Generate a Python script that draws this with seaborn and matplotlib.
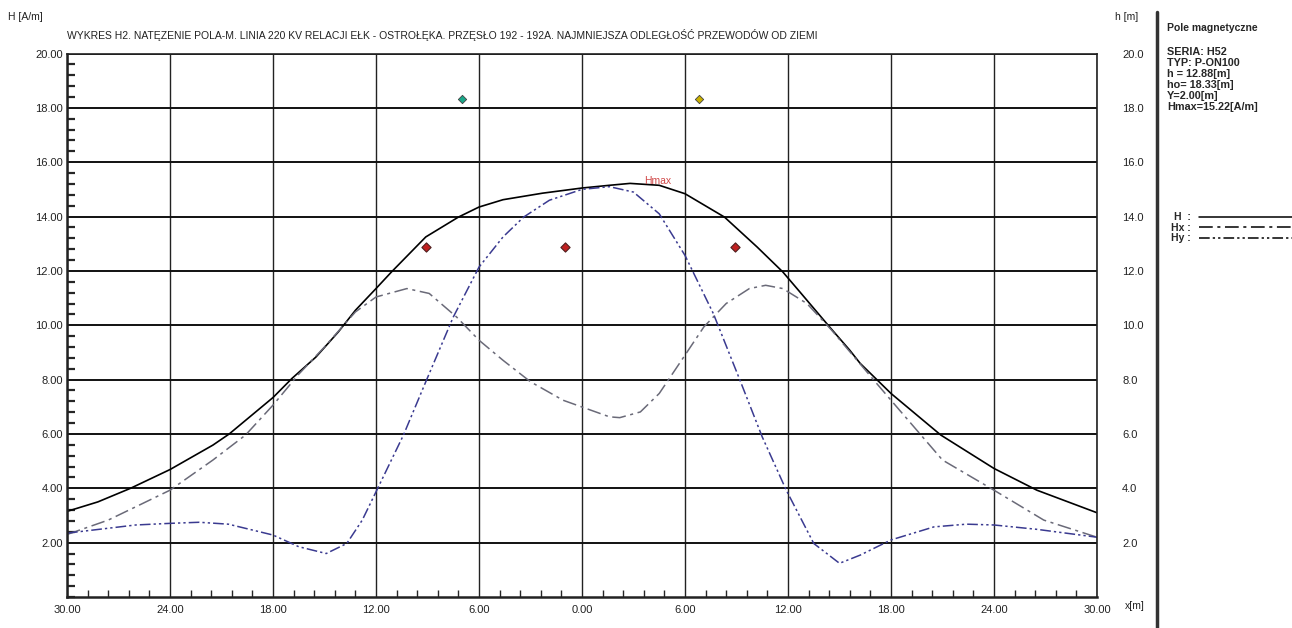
import numpy as np
import pandas as pd
import matplotlib
matplotlib.use("Agg")
import matplotlib.pyplot as plt
import seaborn as sns
from matplotlib.ticker import MultipleLocator, FuncFormatter
from matplotlib.lines import Line2D

# H - total field [A/m]
h_x = [-30, -28.2, -26.3, -24, -21.5, -20.55, -18, -16.9, -15.5, -14.2, -13.2, -12, -11.1,
       -9.1, -7.2, -6.0, -4.6, -2.3, 0.0, 1.6, 2.8, 4.5, 6.0, 8.3, 10.2, 11.7, 12.7, 14.5,
       15.6, 16.2, 18.0, 20.9, 24.0, 26.5, 30.0]
h_y = [3.15, 3.5, 4.0, 4.69, 5.59, 6.0, 7.34, 8.04, 8.83, 9.75, 10.55, 11.35, 11.96,
       13.25, 13.98, 14.35, 14.62, 14.86, 15.05, 15.15, 15.22, 15.15, 14.84, 13.98, 12.88, 11.96,
       11.22, 9.88, 9.08, 8.6, 7.49, 5.96, 4.73, 3.93, 3.1]

# Hx
hx_x = [-30, -27.6, -25.6, -24, -21.5, -19.6, -18, -16.5, -15.0, -13.2, -12, -10.2, -8.9,
        -7.3, -6, -4.6, -3.0, -1.1, 1.6, 2.2, 3.4, 4.5, 6.0, 7.1, 8.4, 9.75, 10.7, 11.7,
        13.1, 14.5, 17.0, 18.0, 21.0, 24.0, 26.9, 30.0]
hx_y = [2.3, 2.83, 3.44, 3.93, 5.04, 5.96, 7.06, 8.2, 9.2, 10.49, 11.04, 11.35, 11.17,
        10.3, 9.45, 8.71, 7.92, 7.24, 6.63, 6.6, 6.81, 7.49, 8.9, 9.94, 10.8, 11.35, 11.47, 11.35,
        10.8, 9.85, 7.98, 7.24, 5.04, 3.93, 2.83, 2.2]

# Hy
hy_x = [-30, -28, -26, -24, -22.3, -20.6, -18, -16.5, -14.9, -13.7, -12.8, -11.9, -10.4,
        -9.1, -7.5, -6, -4.6, -3.4, -1.9, 0.0, 1.6, 3.0, 4.5, 6.0, 7.65, 9.2, 10.5, 11.9,
        13.5, 15.0, 16.2, 18.0, 20.5, 22.4, 24.0, 26.5, 30.0]
hy_y = [2.35, 2.5, 2.65, 2.71, 2.75, 2.68, 2.28, 1.85, 1.6, 1.97, 2.83, 4.0, 5.96,
        7.92, 10.3, 12.14, 13.25, 13.98, 14.6, 15.0, 15.1, 14.9, 14.1, 12.57, 10.43, 7.98, 5.89, 3.93,
        1.97, 1.24, 1.54, 2.1, 2.58, 2.68, 2.65, 2.49, 2.2]

# conductors and ground wires
cond_x = [-9.1, -1.0, 8.9]
cond_y = [12.88, 12.88, 12.88]
gw_x = [-7.0, 6.8]
gw_y = [18.33, 18.33]
gw_colors = ["#1aa88a", "#c9b000"]

info_lines = ["SERIA: H52", "TYP: P-ON100", "h = 12.88[m]", "ho= 18.33[m]",
              "Y=2.00[m]", "Hmax=15.22[A/m]"]
title = ("WYKRES H2. NATĘZENIE POLA-M. LINIA 220 KV RELACJI EŁK - OSTROŁĘKA. "
         "PRZĘSŁO 192 - 192A. NAJMNIEJSZA ODLEGŁOŚĆ PRZEWODÓW OD ZIEMI")

sns.set_theme(style="white")
plt.rcParams['font.family'] = ['Liberation Sans Narrow', 'Liberation Sans', 'DejaVu Sans']

fig = plt.figure(figsize=(12.92, 6.28), dpi=100)
ax = fig.add_axes([67/1292, 1 - 597/628, 1030/1292, 543.5/628])

hx_style = (0, (9, 3, 2, 3))
hy_style = (0, (7, 2, 1.5, 2, 1.5, 2))
sns.lineplot(x=h_x, y=h_y, ax=ax, color="black", lw=1.2, sort=False)
sns.lineplot(x=hx_x, y=hx_y, ax=ax, color="#6a6a78", lw=1.1, linestyle=hx_style, sort=False)
sns.lineplot(x=hy_x, y=hy_y, ax=ax, color="#3a3a90", lw=1.1, linestyle=hy_style, sort=False)

sns.scatterplot(x=cond_x, y=cond_y, ax=ax, marker="D", s=22, color="#c02020",
                edgecolor="#502020", linewidth=0.8, zorder=5)
for gx, gy, gc in zip(gw_x, gw_y, gw_colors):
    ax.scatter([gx], [gy], marker="D", s=18, color=gc, edgecolor="#404040", linewidth=0.6, zorder=5)

ax.text(3.6, 15.2, "Hmax", color="#d04848", fontsize=7.5)

ax.set_xlim(-30, 30)
ax.set_ylim(0, 20)
ax.set_xticks(np.arange(-30, 31, 6))
ax.set_yticks(np.arange(2, 21, 2))
ax.xaxis.set_major_formatter(FuncFormatter(lambda v, p: f"{abs(v):.2f}"))
ax.yaxis.set_major_formatter(FuncFormatter(lambda v, p: f"{v:.2f}"))
ax.xaxis.set_minor_locator(MultipleLocator(1.2))
ax.yaxis.set_minor_locator(MultipleLocator(0.4))
ax.tick_params(axis='both', which='major', length=0, labelsize=8, colors="#222222")
ax.tick_params(axis='x', which='major', pad=6)
ax.tick_params(axis='y', which='major', pad=3)
ax.tick_params(axis='x', which='minor', direction='in', length=5, width=1, bottom=True)
ax.tick_params(axis='y', which='minor', direction='in', length=6, width=1.6, left=True)
ax.grid(True, axis='x', which='major', color="#222222", lw=1.0)
ax.grid(True, axis='y', which='major', color="#111111", lw=1.4)
for s in ax.spines.values():
    s.set_color("#222222")
    s.set_linewidth(1.2)
ax.spines['left'].set_linewidth(1.8)
ax.spines['bottom'].set_linewidth(1.8)
ax.set_axisbelow(True)

ax2 = ax.twinx()
ax2.set_ylim(0, 20)
ax2.set_yticks(np.arange(2, 21, 2))
ax2.yaxis.set_major_formatter(FuncFormatter(lambda v, p: f"{v:.1f}"))
ax2.tick_params(axis='y', length=0, pad=18, labelsize=8, colors="#222222")
ax2.grid(False)
for s in ax2.spines.values():
    s.set_visible(False)

fig.text(8/1292, 1 - 17/628, "H [A/m]", fontsize=7.5, color="#222222", va='center')
fig.text(1115/1292, 1 - 17/628, "h [m]", fontsize=7.5, color="#222222", va='center')
fig.text(1125/1292, 1 - 606/628, "x[m]", fontsize=7.5, color="#222222", va='center')
fig.text(67/1292, 1 - 35/628, title, fontsize=7.45, color="#222222", va='center')

# right info panel
fig.add_artist(Line2D([1157/1292, 1157/1292], [0, 1 - 12/628], color="#333333", lw=2.5))
fig.text(1167/1292, 1 - 28/628, "Pole magnetyczne", fontsize=7.5, fontweight='bold',
         family=['Liberation Sans', 'DejaVu Sans'], va='center')
for i, line in enumerate(info_lines):
    fig.text(1167/1292, 1 - (52 + i * 11)/628, line, fontsize=7.8, fontweight='bold',
             family=['Liberation Sans', 'DejaVu Sans'], va='center', linespacing=1)

handles = [Line2D([], [], color="black", lw=1.1),
           Line2D([], [], color="black", lw=1.1, linestyle=hx_style),
           Line2D([], [], color="black", lw=1.1, linestyle=hy_style)]
leg = fig.legend(handles, ["H  :", "Hx :", "Hy :"], loc='upper left',
                 bbox_to_anchor=(1166/1292, 1 - 207/628), markerfirst=False, frameon=False,
                 handlelength=9.0, handletextpad=0.8, labelspacing=0.05, borderpad=0,
                 prop={'family': ['Liberation Sans', 'DejaVu Sans'], 'weight': 'bold', 'size': 7.5})

fig.savefig("out.png", dpi=100, facecolor="white")
